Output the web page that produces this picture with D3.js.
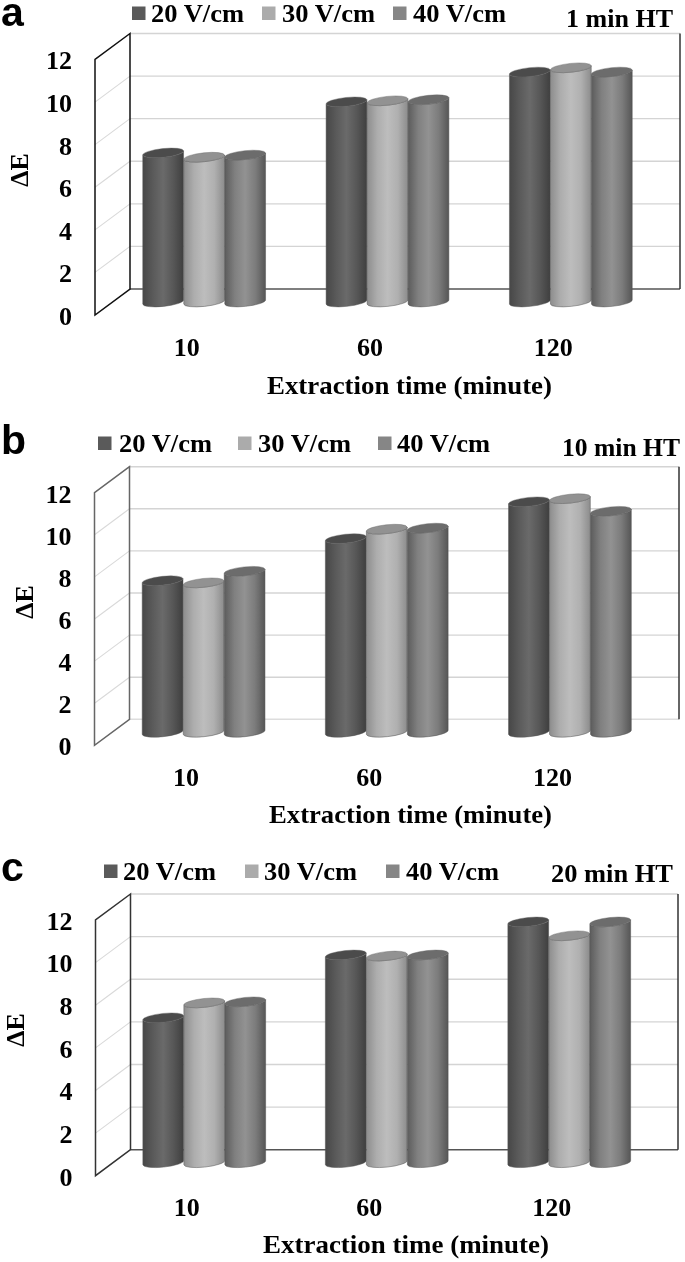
<!DOCTYPE html>
<html><head><meta charset="utf-8">
<script src="https://cdn.jsdelivr.net/npm/d3@7"></script>
<style>html,body{margin:0;padding:0;background:#fff}svg{display:block;filter:blur(.5px)}
text{font-family:"Liberation Serif",serif;font-weight:700;fill:#000}</style></head>
<body><svg id="c" width="685" height="1262"></svg>
<script>
// ---- data ----
const categories = ["10","60","120"];
const seriesNames = ["20 V/cm","30 V/cm","40 V/cm"];
const yTicks = [0,2,4,6,8,10,12];
const panelLetters = ["a","b","c"];
const panelTitles = ["1 min HT","10 min HT","20 min HT"];
const xTitle = "Extraction time (minute)";
const yTitle = "\u0394E";
const a20 = [7.0, 9.4, 10.8];
const a30 = [6.8, 9.45, 11.0];
const a40 = [6.9, 9.5, 10.8];
const b20 = [7.2, 9.2, 10.95];
const b30 = [7.1, 9.65, 11.1];
const b40 = [7.65, 9.7, 10.5];
const c20 = [6.8, 9.75, 11.3];
const c30 = [7.5, 9.7, 10.65];
const c40 = [7.55, 9.75, 11.3];
const panelValues = [[a20,a30,a40],[b20,b30,b40],[c20,c30,c40]];

// ---- layout ----
const layouts = [
 {left:130,right:680,top:33.5,bottom:289,floor:"#555",wall:"#111",letter:[1,26],
  legendY:13,sw:[132,262,393],tx:[151,282,413],tw:93,
  title:[673,18,107],xLab:347,xTit:[409.5,386,285],yTit:[19,170]},
 {left:129.5,right:679,top:466.7,bottom:719.3,floor:"#ddd",wall:"#666",letter:[1,454],
  legendY:443,sw:[98,238,378],tx:[119,258,397],tw:93,
  title:[680,447,118],xLab:777,xTit:[410.5,815,283],yTit:[24,602]},
 {left:130.5,right:678,top:894,bottom:1149.7,floor:"#555",wall:"#333",letter:[1,881],
  legendY:871,sw:[104,245,386],tx:[123,264,406],tw:93,
  title:[673,873,122],xLab:1207,xTit:[406,1245,286],yTit:[15,1030]}
];
const depthX=35, depthY=26, barW=41, tilt=6*Math.PI/180, ry=4.4;
const fills=[
 {stops:["#474747","#5a5a5a","#6a6a6a","#575757","#3f3f3f"],top:"#4b4b4b"},
 {stops:["#8d8d8d","#adadad","#bdbdbd","#b0b0b0","#8c8c8c"],top:"#929292"},
 {stops:["#5c5c5c","#808080","#929292","#7c7c7c","#565656"],top:"#6c6c6c"}];

const svg=d3.select("#c");
const defs=svg.append("defs");
fills.forEach((f,i)=>{
  const g=defs.append("linearGradient").attr("id","cyl"+i).attr("x1",0).attr("x2",1).attr("y1",0).attr("y2",0);
  f.stops.forEach((s,j)=>g.append("stop").attr("offset",[0,.25,.5,.75,1][j]).attr("stop-color",s));
});

layouts.forEach((L,p)=>{
  const g=svg.append("g");
  const width=L.right-L.left;
  const yBack=d3.scaleLinear().domain([0,12]).range([L.bottom,L.top]);
  const yFront=d3.scaleLinear().domain([0,12]).range([L.bottom+depthY,L.top+depthY]);
  const yMid=d3.scaleLinear().domain([0,12]).range([L.bottom+depthY/2,L.top+depthY/2]);
  const xFront=d3.scaleBand().domain(categories).range([L.left-depthX,L.left-depthX+width]);
  const xMid=d3.scaleBand().domain(categories).range([L.left-depthX/2,L.left-depthX/2+width]);
  const xInner=d3.scaleBand().domain(seriesNames).range([-barW*1.5,barW*1.5]);

  // gridlines on back and side wall
  yTicks.slice(1).forEach(t=>{
    g.append("line").attr("x1",L.left).attr("x2",L.right).attr("y1",yBack(t)).attr("y2",yBack(t))
      .attr("stroke","#d4d4d4").attr("stroke-width",1.4);
    if(t<12) g.append("line").attr("x1",L.left-depthX).attr("x2",L.left).attr("y1",yFront(t)).attr("y2",yBack(t))
      .attr("stroke","#d9d9d9").attr("stroke-width",1.1);
  });
  g.append("line").attr("x1",L.left).attr("x2",L.right).attr("y1",yBack(0)).attr("y2",yBack(0))
    .attr("stroke",L.floor).attr("stroke-width",1.4);
  g.append("line").attr("x1",L.right).attr("x2",L.right).attr("y1",L.top).attr("y2",L.bottom)
    .attr("stroke","#333").attr("stroke-width",1.5);
  // side wall outline
  g.append("path").attr("fill","none").attr("stroke",L.wall).attr("stroke-width",1.5)
    .attr("d",d3.line()([[L.left,yBack(12)],[L.left-depthX,yFront(12)],[L.left-depthX,yFront(0)],[L.left,yBack(0)]])+"Z");

  // cylinders
  const rx=barW/2, ex=rx*Math.cos(tilt), ey=rx*Math.sin(tilt);
  categories.forEach((cat,ci)=>{
    seriesNames.forEach((s,si)=>{
      const v=panelValues[p][si][ci];
      const cx=xMid(cat)+xMid.bandwidth()/2+xInner(s)+barW/2;
      const yt=yMid(v), yb=yMid(0);
      const rot=-tilt*180/Math.PI;
      g.append("path").attr("fill",`url(#cyl${si})`).attr("stroke","#555").attr("stroke-width",.5)
        .attr("d",`M${cx-ex},${yt+ey}L${cx-ex},${yb+ey}A${rx},${ry} ${rot} 0 0 ${cx+ex},${yb-ey}L${cx+ex},${yt-ey}A${rx},${ry} ${rot} 0 1 ${cx-ex},${yt+ey}Z`);
      g.append("ellipse").attr("cx",0).attr("cy",0).attr("rx",rx).attr("ry",ry)
        .attr("transform",`translate(${cx},${yt}) rotate(${rot})`)
        .attr("fill",fills[si].top).attr("stroke","#666").attr("stroke-width",.4);
    });
  });

  // axes
  const yAxisG=g.append("g").attr("transform",`translate(${L.left-depthX-23},0)`)
    .call(d3.axisLeft(yFront).tickValues(yTicks).tickFormat(d3.format("d")).tickSize(0).tickPadding(0));
  yAxisG.select(".domain").remove();
  yAxisG.selectAll("text").style("font-size","26px").style("font-family",'"Liberation Serif",serif').attr("dy","0.36em");
  const xAxisG=g.append("g").attr("transform",`translate(0,${L.xLab})`)
    .call(d3.axisBottom(xFront).tickSize(0).tickPadding(0));
  xAxisG.select(".domain").remove();
  xAxisG.selectAll("text").style("font-size","26px").style("font-family",'"Liberation Serif",serif').attr("y",0).attr("dy","0.34em");

  // axis titles
  g.append("text").attr("x",L.xTit[0]).attr("y",L.xTit[1]).attr("dy","0.3em").attr("text-anchor","middle")
    .attr("font-size",25).attr("textLength",L.xTit[2]).attr("lengthAdjust","spacingAndGlyphs").text(xTitle);
  g.append("text").attr("transform",`translate(${L.yTit[0]},${L.yTit[1]}) rotate(-90)`).attr("dy","0.34em")
    .attr("text-anchor","middle").attr("font-size",26).text(yTitle);

  // legend
  seriesNames.forEach((s,i)=>{
    g.append("rect").attr("x",L.sw[i]).attr("y",L.legendY-6.5).attr("width",13.5).attr("height",13.5)
      .attr("fill",["#5a5a5a","#ababab","#868686"][i]);
    g.append("text").attr("x",L.tx[i]).attr("y",L.legendY).attr("dy","0.34em").attr("font-size",26)
      .attr("textLength",L.tw).attr("lengthAdjust","spacingAndGlyphs").text(s);
  });
  // panel title and letter
  g.append("text").attr("x",L.title[0]-L.title[2]).attr("y",L.title[1]).attr("dy","0.34em").attr("font-size",25)
    .attr("textLength",L.title[2]).attr("lengthAdjust","spacingAndGlyphs").text(panelTitles[p]);
  g.append("text").attr("x",L.letter[0]).attr("y",L.letter[1]).attr("font-size",41).attr("font-weight",700)
    .style("font-family",'"Liberation Sans",sans-serif').style("fill","#000").text(panelLetters[p]);
});
</script></body></html>
